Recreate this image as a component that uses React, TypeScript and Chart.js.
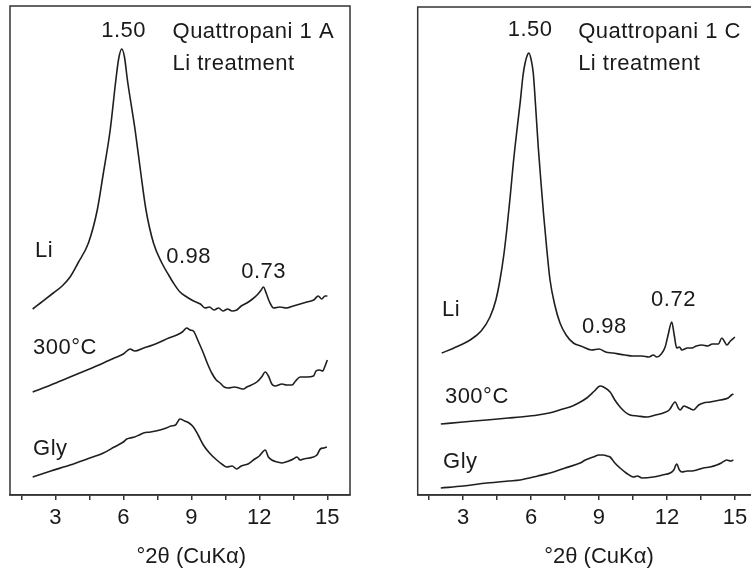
import React, { useEffect, useRef } from 'react';
import { Chart, registerables } from 'chart.js';

Chart.register(...registerables);

// ---------- axis ----------
const X_MIN = 1;
const X_MAX = 16;
const xTickValues = [1.5, 3, 4.5, 6, 7.5, 9, 10.5, 12, 13.5, 15];
const xAxisTitle = '°2θ (CuKα)';

// ---------- Panel A (Quattropani 1 A) ----------
const aLiTheta = [2.0, 2.4, 2.91, 3.3, 3.65, 4.0, 4.46, 4.85, 5.12, 5.42, 5.67, 5.8, 5.93, 6.05, 6.18, 6.52, 6.77, 7.0, 7.33, 7.7, 8.0, 8.21, 8.5, 8.8, 9.1, 9.4, 9.6, 9.8, 10.0, 10.2, 10.4, 10.6, 10.8, 11.0, 11.2, 11.45, 11.7, 11.9, 12.05, 12.18, 12.3, 12.45, 12.63, 12.9, 13.2, 13.5, 13.8, 14.1, 14.4, 14.6, 14.75, 14.9, 15.0];
const aLiIntensity = [186, 193, 202, 209, 218, 232, 252, 285, 322, 365, 415, 437, 446, 438, 415, 365, 322, 285, 252, 232, 220, 212, 203, 198, 194, 191, 187, 188, 185, 187, 184, 186, 184, 185, 189, 192, 196, 200, 204, 208, 202, 193, 187, 188, 187, 189, 191, 193, 195, 199, 196, 199, 199];

const a300Theta = [2.0, 2.8, 3.65, 4.4, 5.12, 5.6, 6.0, 6.3, 6.5, 6.9, 7.3, 7.62, 8.0, 8.36, 8.6, 8.8, 8.95, 9.09, 9.3, 9.53, 9.7, 9.9, 10.1, 10.27, 10.45, 10.64, 10.9, 11.1, 11.3, 11.45, 11.65, 11.89, 12.1, 12.26, 12.4, 12.55, 12.7, 13.0, 13.2, 13.44, 13.6, 13.8, 14.1, 14.39, 14.5, 14.65, 14.8, 14.9, 15.0];
const a300Intensity = [103, 110, 118, 125, 132, 137, 141, 146, 144, 147, 150, 153, 157, 160, 163, 167, 165, 164, 154, 142, 132, 122, 115, 112, 108, 107, 108, 107, 106, 108, 110, 113, 118, 123, 119, 111, 109, 111, 110, 110, 114, 118, 118, 119, 124, 125, 124, 129, 135];

const aGlyTheta = [2.0, 2.8, 3.65, 4.4, 5.12, 5.6, 6.0, 6.15, 6.3, 6.5, 6.7, 6.89, 7.2, 7.62, 7.9, 8.1, 8.3, 8.5, 8.7, 8.9, 9.09, 9.3, 9.53, 9.8, 10.12, 10.4, 10.57, 10.8, 11.0, 11.2, 11.5, 11.74, 12.0, 12.26, 12.4, 12.55, 12.8, 13.0, 13.3, 13.5, 13.66, 13.8, 13.95, 14.2, 14.54, 14.69, 14.85, 14.98];
const aGlyIntensity = [18, 24, 30, 36, 42, 48, 53, 56, 57, 58, 60, 62, 63, 65, 67, 69, 70, 76, 74, 72, 68, 60, 50, 42, 35, 30, 28, 29, 26, 29, 31, 35, 39, 45, 38, 35, 33, 32, 34, 36, 38, 35, 36, 37, 40, 46, 47, 48];

// ---------- Panel C (Quattropani 1 C) ----------
const cLiTheta = [2.06, 2.6, 3.31, 3.8, 4.19, 4.45, 4.63, 4.8, 4.93, 5.08, 5.22, 5.38, 5.52, 5.65, 5.74, 5.84, 5.91, 6.0, 6.1, 6.2, 6.32, 6.45, 6.55, 6.7, 6.84, 7.05, 7.28, 7.55, 7.87, 8.2, 8.68, 9.0, 9.3, 9.6, 10.15, 10.5, 10.9, 11.2, 11.4, 11.55, 11.75, 11.92, 12.05, 12.21, 12.32, 12.43, 12.55, 12.66, 12.9, 13.1, 13.3, 13.54, 13.8, 14.0, 14.27, 14.42, 14.55, 14.64, 14.8, 15.0];
const cLiIntensity = [142, 147, 155, 164, 178, 195, 215, 240, 265, 298, 332, 365, 392, 420, 432, 440, 442, 436, 422, 390, 348, 310, 282, 245, 215, 190, 172, 160, 152, 149, 145, 146, 143, 142, 140, 139, 139, 138, 140, 138, 141, 148, 160, 173, 160, 147, 148, 145, 147, 147, 149, 150, 149, 151, 151, 157, 153, 150, 154, 158];

const c300Theta = [2.02, 3.0, 4.05, 5.0, 5.52, 6.3, 6.99, 7.4, 7.72, 8.1, 8.46, 8.8, 9.05, 9.2, 9.49, 9.7, 9.93, 10.15, 10.37, 10.7, 11.11, 11.5, 11.84, 12.1, 12.36, 12.5, 12.58, 12.75, 12.88, 13.05, 13.17, 13.4, 13.61, 13.9, 14.35, 14.7, 14.85, 14.93];
const c300Intensity = [71, 73, 75, 77, 78, 80, 83, 86, 88, 92, 97, 104, 109, 108, 103, 95, 88, 83, 80, 79, 78, 80, 82, 85, 93, 87, 85, 89, 88, 86, 85, 90, 92, 93, 95, 97, 100, 101];

const cGlyTheta = [2.02, 3.0, 4.05, 5.0, 5.52, 6.3, 6.99, 7.5, 8.17, 8.4, 8.75, 9.0, 9.19, 9.35, 9.49, 9.7, 9.93, 10.2, 10.52, 10.7, 10.9, 11.4, 11.8, 12.14, 12.3, 12.43, 12.55, 12.66, 12.9, 13.1, 13.32, 13.6, 13.9, 14.2, 14.4, 14.64, 14.8, 14.93];
const cGlyIntensity = [7, 9, 12, 14, 15, 19, 23, 27, 32, 35, 38, 40, 40, 39, 38, 32, 27, 22, 18, 19, 17, 18, 20, 22, 25, 31, 25, 23, 24, 24, 25, 27, 28, 30, 32, 35, 34, 35];

// ---------- annotations (text, position in data units) ----------
const aTexts = ['1.50', 'Quattropani 1 A', 'Li treatment', 'Li', '0.98', '0.73', '300°C', 'Gly'];
const cTexts = ['1.50', 'Quattropani 1 C', 'Li treatment', 'Li', '0.98', '0.72', '300°C', 'Gly'];

const LINE = '#1f1f1f';
const INK = '#1a1a1a';
const FONT = '"Liberation Sans", Arial, Helvetica, sans-serif';

const toPoints = (xs: number[], ys: number[]) => xs.map((x, i) => ({ x, y: ys[i] }));

const framePlugin = {
  id: 'frame',
  afterDraw(chart: any, _args: any, opts: any) {
    const { ctx, chartArea, scales } = chart;
    const { left, top, right, bottom } = chartArea;
    const xs = scales.x;
    const ys = scales.y;
    ctx.save();
    ctx.strokeStyle = '#333';
    ctx.lineWidth = 1.5;
    ctx.strokeRect(left, top, right - left, bottom - top);
    ctx.fillStyle = INK;
    ctx.font = `22px ${FONT}`;
    try { (ctx as any).letterSpacing = '0.5px'; } catch (e) {}
    ctx.textBaseline = 'alphabetic';
    for (const a of opts.labels || []) {
      ctx.textAlign = a.align || 'left';
      ctx.fillText(a.text, xs.getPixelForValue(a.x), ys.getPixelForValue(a.y));
    }
    try { (ctx as any).letterSpacing = '0px'; } catch (e) {}
    ctx.textAlign = 'center';
    ctx.fillText(opts.title, xs.getPixelForValue(9), bottom + 68);
    ctx.restore();
  },
};

function makeConfig(series: { x: number[]; y: number[] }[], labels: any[], yMax: number, padding: any) {
  return {
    type: 'line' as const,
    data: {
      datasets: series.map((s) => ({
        data: toPoints(s.x, s.y),
        borderColor: LINE,
        borderWidth: 1.6,
        pointRadius: 0,
        fill: false,
        cubicInterpolationMode: 'monotone' as const,
      })),
    },
    options: {
      responsive: false,
      animation: false as const,
      devicePixelRatio: 1,
      layout: { padding },
      plugins: {
        legend: { display: false },
        tooltip: { enabled: false },
        frame: { labels, title: xAxisTitle },
      },
      scales: {
        x: {
          type: 'linear' as const,
          min: X_MIN,
          max: X_MAX,
          afterBuildTicks: (scale: any) => {
            scale.ticks = xTickValues.map((v) => ({ value: v }));
          },
          afterFit: (scale: any) => {
            scale.height = 75;
          },
          ticks: {
            autoSkip: false,
            maxRotation: 0,
            padding: 5,
            color: INK,
            font: { family: FONT, size: 22 },
            callback: (v: any) => (Number(v) % 3 === 0 ? String(v) : ''),
          },
          grid: {
            drawOnChartArea: false,
            drawTicks: true,
            tickLength: 5,
            color: '#333',
            lineWidth: 1.5,
          },
          border: { display: true, color: '#333', width: 1.5 },
        },
        y: {
          display: false,
          min: 0,
          max: yMax,
        },
      },
    },
    plugins: [framePlugin],
  };
}

function Panel(props: { config: any; width: number; height: number; left: number }) {
  const ref = useRef<HTMLCanvasElement | null>(null);
  useEffect(() => {
    if (!ref.current) return;
    const chart = new Chart(ref.current, props.config);
    return () => chart.destroy();
  }, []);
  return (
    <canvas
      ref={ref}
      width={props.width}
      height={props.height}
      style={{ position: 'absolute', left: props.left, top: 0, width: props.width, height: props.height, display: 'block' }}
    />
  );
}

export default function App() {
  const aLabels = [
    { text: aTexts[0], x: 6.01, y: 458, align: 'center' },
    { text: aTexts[1], x: 8.17, y: 457 },
    { text: aTexts[2], x: 8.17, y: 425 },
    { text: aTexts[3], x: 2.1, y: 238 },
    { text: aTexts[4], x: 7.89, y: 232 },
    { text: aTexts[5], x: 11.2, y: 217 },
    { text: aTexts[6], x: 2.02, y: 141 },
    { text: aTexts[7], x: 2.02, y: 40 },
  ];
  const cLabels = [
    { text: cTexts[0], x: 5.96, y: 459, align: 'center' },
    { text: cTexts[1], x: 8.08, y: 457 },
    { text: cTexts[2], x: 8.08, y: 425 },
    { text: cTexts[3], x: 2.07, y: 179 },
    { text: cTexts[4], x: 8.25, y: 162 },
    { text: cTexts[5], x: 11.3, y: 189 },
    { text: cTexts[6], x: 2.2, y: 92 },
    { text: cTexts[7], x: 2.12, y: 27 },
  ];
  const aConfig = makeConfig(
    [
      { x: aLiTheta, y: aLiIntensity },
      { x: a300Theta, y: a300Intensity },
      { x: aGlyTheta, y: aGlyIntensity },
    ],
    aLabels,
    489,
    { left: 10, right: 25, top: 6, bottom: 0 }
  );
  const cConfig = makeConfig(
    [
      { x: cLiTheta, y: cLiIntensity },
      { x: c300Theta, y: c300Intensity },
      { x: cGlyTheta, y: cGlyIntensity },
    ],
    cLabels,
    488,
    { left: 42.7, right: 7.4, top: 7, bottom: 0 }
  );
  return (
    <div style={{ position: 'fixed', left: 0, top: 0, width: 751, height: 570, overflow: 'hidden', background: '#fff' }}>
      <Panel config={aConfig} width={375} height={570} left={0} />
      <Panel config={cConfig} width={390} height={570} left={375} />
    </div>
  );
}
